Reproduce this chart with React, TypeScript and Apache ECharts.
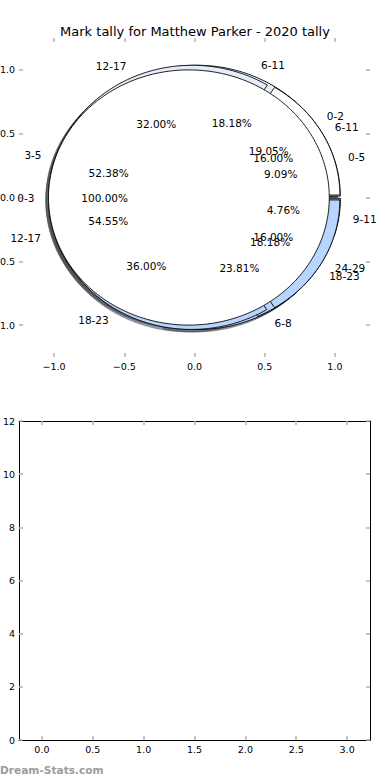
import React, { useEffect, useRef } from "react";
import * as echarts from "echarts";

const titleText = "Mark tally for Matthew Parker - 2020 tally";
const watermarkText = "Dream-Stats.com";

// Pies, in the order they are drawn
const pieALabels = ["0-2", "3-5", "6-8", "9-11"];
const pieAValues = [4, 11, 5, 1];
const pieCLabels = ["0-5", "6-11", "12-17", "18-23"];
const pieCValues = [1, 2, 6, 2];
const pieBLabels = ["6-11", "12-17", "18-23", "24-29"];
const pieBValues = [4, 8, 9, 4];
const pieDLabels = ["0-3"];
const pieDValues = [1];

// Tick values
const pieTicks = [-1, -0.5, 0, 0.5, 1];
const lowerXTicks = [0, 0.5, 1, 1.5, 2, 2.5, 3];
const lowerYTicks = [0, 2, 4, 6, 8, 10, 12];

const PALETTE = [
  [255, 255, 255],
  [229, 237, 250],
  [183, 213, 254],
  [183, 213, 254],
];

const pies = [
  { labels: pieALabels, values: pieAValues },
  { labels: pieCLabels, values: pieCValues },
  { labels: pieBLabels, values: pieBValues },
  { labels: pieDLabels, values: pieDValues },
];

const RADIUS = 1;
const EXPLODE = 0.04;
const SHADOW_DX = -0.02;
const SHADOW_DY = -0.02;

type Wedge = { start: number; end: number; cx: number; cy: number; label: string; pct: string; rgb: number[] };

function buildWedges(): Wedge[] {
  const out: Wedge[] = [];
  pies.forEach((p) => {
    const total = p.values.reduce((a, b) => a + b, 0);
    let acc = 0;
    p.values.forEach((v, i) => {
      const start = (acc / total) * 360;
      acc += v;
      const end = (acc / total) * 360;
      const mid = ((start + end) / 2) * Math.PI / 180;
      out.push({
        start,
        end,
        cx: EXPLODE * Math.cos(mid),
        cy: EXPLODE * Math.sin(mid),
        label: p.labels[i],
        pct: ((v / total) * 100).toFixed(2) + "%",
        rgb: PALETTE[i % PALETTE.length],
      });
    });
  });
  return out;
}

const FONT = "DejaVu Sans";

export default function App() {
  const ref = useRef<HTMLDivElement>(null);
  useEffect(() => {
    document.body.style.margin = "0";
    const chart = echarts.init(ref.current!, null, { renderer: "svg" });
    const wedges = buildWedges();
    const LABEL_D = 1.1;
    const PCT_D = 0.6;

    const texts: { x: number; y: number; text: string; align: string }[] = [];
    wedges.forEach((w) => {
      const mid = ((w.start + w.end) / 2) * Math.PI / 180;
      const c = Math.cos(mid);
      const s = Math.sin(mid);
      texts.push({ x: w.cx + LABEL_D * RADIUS * c, y: w.cy + LABEL_D * RADIUS * s, text: w.label, align: c > 0 ? "left" : "right" });
      texts.push({ x: w.cx + PCT_D * RADIUS * c, y: w.cy + PCT_D * RADIUS * s, text: w.pct, align: "center" });
    });

    const wedgePoints = (api: any, w: Wedge, dx: number, dy: number) => {
      const pts: number[][] = [];
      const full = w.end - w.start >= 359.999;
      if (!full) pts.push(api.coord([w.cx + dx, w.cy + dy]));
      const steps = Math.max(2, Math.ceil((w.end - w.start) / 0.75));
      for (let k = 0; k <= steps; k++) {
        const a = ((w.start + ((w.end - w.start) * k) / steps) * Math.PI) / 180;
        pts.push(api.coord([w.cx + dx + RADIUS * Math.cos(a), w.cy + dy + RADIUS * Math.sin(a)]));
      }
      return pts;
    };

    const fmtTick = (v: number) => (v < 0 ? "\u2212" : "") + Math.abs(v).toFixed(1);
    const tickStyle = { color: "#b3b3b3", width: 1.5 };

    const pieAxis = (position: string, showLabel: boolean) => ({
      type: "value",
      gridIndex: 0,
      position,
      min: -1.25,
      max: 1.25,
      axisLine: { show: false, onZero: false },
      axisTick: { show: true, inside: true, length: 4, lineStyle: tickStyle, customValues: pieTicks },
      axisLabel: {
        show: showLabel,
        customValues: pieTicks,
        formatter: fmtTick,
        fontSize: 9.5,
        color: "#000",
        fontFamily: FONT,
        margin: 4,
      },
      splitLine: { show: false },
    });

    const lowAxis = (position: string, showLabel: boolean, isX: boolean) => ({
      type: "value",
      gridIndex: 1,
      position,
      min: isX ? -0.225 : 0,
      max: isX ? 3.225 : 12,
      axisLine: { show: true, onZero: false, lineStyle: { color: "#000", width: 1 } },
      axisTick: {
        show: true,
        inside: true,
        length: 4,
        lineStyle: tickStyle,
        customValues: isX ? lowerXTicks : lowerYTicks,
      },
      axisLabel: {
        show: showLabel,
        customValues: isX ? lowerXTicks : lowerYTicks,
        formatter: isX ? (v: number) => v.toFixed(1) : (v: number) => String(v),
        fontSize: 9.5,
        color: "#000",
        fontFamily: FONT,
        margin: 4,
      },
      splitLine: { show: false },
    });

    chart.setOption({
      animation: false,
      backgroundColor: "#fff",
      title: {
        text: titleText,
        left: "center",
        top: 20,
        textStyle: { fontSize: 13, fontWeight: "normal", color: "#000", fontFamily: FONT },
      },
      grid: [
        { left: 19, top: 38, width: 351, height: 319, containLabel: false, outerBoundsMode: "none" },
        { left: 19, top: 421, width: 351, height: 319, containLabel: false, outerBoundsMode: "none" },
      ],
      xAxis: [
        pieAxis("bottom", true),
        pieAxis("top", false),
        lowAxis("bottom", true, true),
        lowAxis("top", false, true),
      ],
      yAxis: [
        pieAxis("left", true),
        pieAxis("right", false),
        lowAxis("left", true, false),
        lowAxis("right", false, false),
      ],
      graphic: [
        {
          type: "text",
          left: 0,
          top: 764,
          style: { text: watermarkText, fill: "#9c9c9c", fontSize: 10.6, fontWeight: "bold", fontFamily: FONT },
        },
      ],
      series: [
        {
          type: "custom",
          xAxisIndex: 0,
          yAxisIndex: 0,
          z: 1,
          clip: false,
          silent: true,
          data: wedges.map(() => [0, 0]),
          renderItem: (params: any, api: any) => {
            const w = wedges[params.dataIndex];
            const [r, g, b] = w.rgb.map((c) => Math.round(c * 0.3));
            const col = `rgba(${r},${g},${b},0.5)`;
            return {
              type: "polygon",
              shape: { points: wedgePoints(api, w, SHADOW_DX, SHADOW_DY) },
              style: { fill: col, stroke: col, lineWidth: 0.8 },
            };
          },
        },
        {
          type: "custom",
          xAxisIndex: 0,
          yAxisIndex: 0,
          z: 2,
          clip: false,
          silent: true,
          data: wedges.map(() => [0, 0]),
          renderItem: (params: any, api: any) => {
            const w = wedges[params.dataIndex];
            return {
              type: "polygon",
              shape: { points: wedgePoints(api, w, 0, 0) },
              style: { fill: `rgb(${w.rgb.join(",")})`, stroke: "#000", lineWidth: 0.9 },
            };
          },
        },
        {
          type: "custom",
          xAxisIndex: 0,
          yAxisIndex: 0,
          z: 3,
          clip: false,
          silent: true,
          data: texts.map(() => [0, 0]),
          renderItem: (params: any, api: any) => {
            const t = texts[params.dataIndex];
            const p = api.coord([t.x, t.y]);
            return {
              type: "text",
              x: p[0],
              y: p[1],
              style: {
                text: t.text,
                fill: "#000",
                fontSize: 10.5,
                fontFamily: FONT,
                align: t.align,
                verticalAlign: "middle",
              },
            };
          },
        },
      ],
    });
    return () => chart.dispose();
  }, []);
  return (
    <div
      ref={ref}
      style={{ position: "fixed", left: 0, top: 0, width: 390, height: 780, background: "#fff" }}
    />
  );
}
